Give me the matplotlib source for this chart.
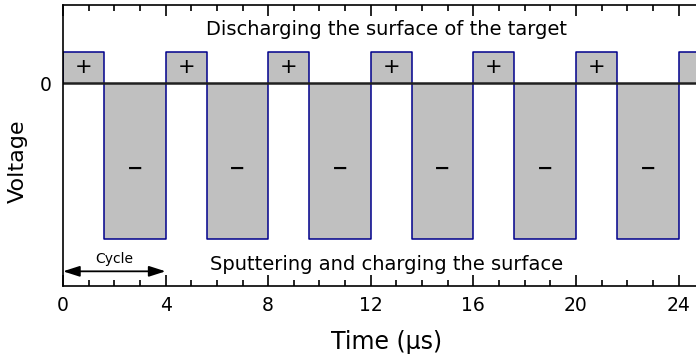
import matplotlib.pyplot as plt
import numpy as np
from matplotlib.ticker import MultipleLocator

# pulsed DC waveform
period = 4.0          # µs
pos_width = 1.6       # µs of positive (reverse) pulse per cycle
v_pos = 1.0
v_neg = -5.0
n_cycles = 7
n_labelled = 6        # pulses that carry a +/- sign
x_ticks = [0, 4, 8, 12, 16, 20, 24]

# build step waveform
t = []
v = []
for k in range(n_cycles):
    t0 = k * period
    t += [t0, t0, t0 + pos_width, t0 + pos_width, t0 + period]
    v += [0, v_pos, v_pos, v_neg, v_neg]
t.append(n_cycles * period)
v.append(0)
t = np.array(t)
v = np.array(v)

W, H = 696, 357
fig = plt.figure(figsize=(W / 100, H / 100), dpi=100)
ax = fig.add_axes([63 / W, 1 - 286 / H, (W - 63) / W + 0.05, (286 - 5) / H])

ax.fill_between(t, v, 0, color='#c0c0c0', lw=0)
ax.plot(t, v, color='#00008b', lw=1.1)
ax.axhline(0, color='#202020', lw=1.8)

for k in range(n_labelled):
    t0 = k * period
    ax.text(t0 + pos_width / 2, v_pos / 2, '+', ha='center', va='center', fontsize=15)
    ax.text(t0 + pos_width + (period - pos_width) / 2, -2.72, '\u2212', ha='center',
            va='center', fontsize=14, fontweight='bold')

ax.text(12.6, 1.7, 'Discharging the surface of the target', ha='center', va='center',
        fontsize=14)
ax.text(12.6, -5.8, 'Sputtering and charging the surface', ha='center', va='center',
        fontsize=14)

ax.annotate('', xy=(0, -6.03), xytext=(4, -6.03),
            arrowprops=dict(arrowstyle='<|-|>,head_length=0.5,head_width=0.16',
                            color='black', lw=1.3, mutation_scale=20,
                            shrinkA=0, shrinkB=0))
ax.text(2, -5.65, 'Cycle', ha='center', va='center', fontsize=10)

ax.set_xlim(0, 24.68 + 0.05 * W / 25.65)
ax.set_ylim(-6.5, 2.5)
ax.set_xticks(x_ticks)
ax.xaxis.set_minor_locator(MultipleLocator(1))
ax.set_yticks([0])
ax.tick_params(axis='x', which='both', direction='in', top=True, labelsize=13.5, width=1.2)
ax.tick_params(axis='x', which='major', length=8, pad=7)
ax.tick_params(axis='x', which='minor', length=4)
ax.tick_params(axis='y', length=0, labelsize=13.5, pad=8)
ax.spines['right'].set_visible(False)
for s in ['left', 'bottom', 'top']:
    ax.spines[s].set_linewidth(1.2)

# axis titles placed in figure pixels
fig.text(387 / W, 1 - 342 / H, 'Time (µs)', ha='center', va='center', fontsize=17)
fig.text(18 / W, 1 - 161 / H, 'Voltage', ha='center', va='center', fontsize=16,
         rotation=90)

fig.savefig('out.png', dpi=100)
